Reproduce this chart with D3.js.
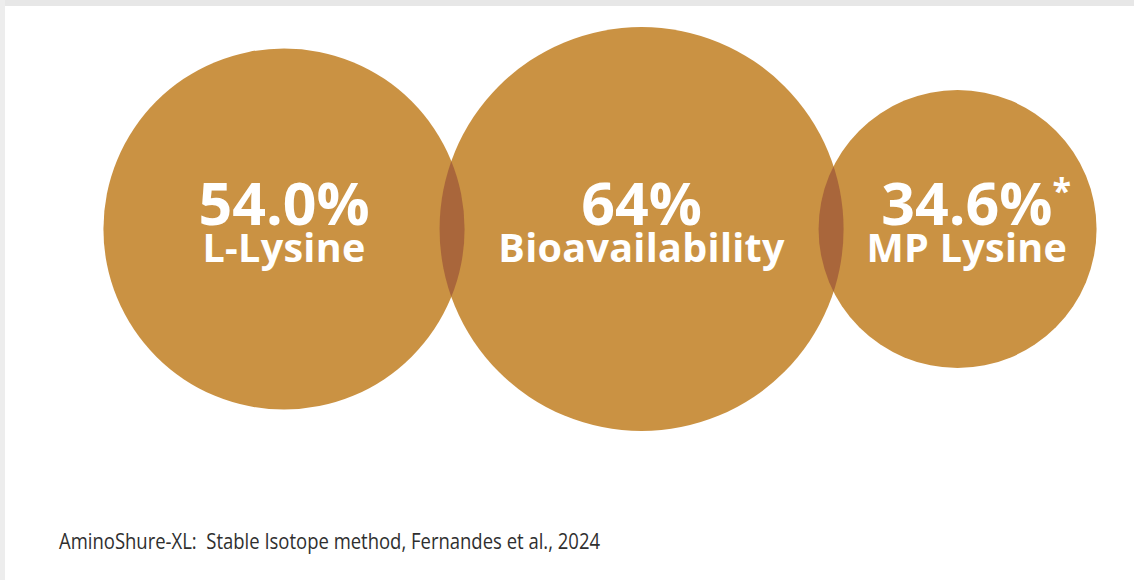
<!DOCTYPE html>
<html>
<head>
<meta charset="utf-8">
<script src="https://cdn.jsdelivr.net/npm/d3@7"></script>
<style>
  html, body { margin: 0; padding: 0; background: #ffffff; }
  svg { display: block; }
</style>
</head>
<body>
<div id="chart"></div>
<script>
// Lysine bioavailability comparison, one bubble per product
const values = [54.0, 64, 34.6];
const valueLabels = ["54.0%", "64%", "34.6%"];
const names = ["L-Lysine", "Bioavailability", "MP Lysine"];
const marks = ["", "", "*"];
const sourceNote = "AminoShure-XL:  Stable Isotope method, Fernandes et al., 2024";

const W = 1134, H = 580;
const fill = "#CA9243", lensFill = "#A9663B";

const svg = d3.select("#chart").append("svg")
  .attr("width", W).attr("height", H);

// page frame: grey band along the top and left edges
svg.append("rect").attr("x", 0).attr("y", 0).attr("width", W).attr("height", H).attr("fill", "#ffffff");
svg.append("rect").attr("x", 0).attr("y", 0).attr("width", W).attr("height", 6).attr("fill", "#e7e7e7");
svg.append("rect").attr("x", 0).attr("y", 0).attr("width", 5).attr("height", H).attr("fill", "#ededed");

// bubble radius from value
const r = d3.scaleLinear().domain([34.6, 64]).range([139, 202]);

// chain bubbles left to right with a small overlap, group centred
const overlap = 25;
const cy = 229;
const radii = values.map(v => r(v));
const totalW = 2 * d3.sum(radii) - overlap * (values.length - 1);
const groupCx = 600;
let x = groupCx - totalW / 2;
const nodes = values.map((v, i) => {
  const cx = x + radii[i];
  x += 2 * radii[i] - overlap;
  return { v, i, cx, cy, r: radii[i], label: valueLabels[i], name: names[i], mark: marks[i] };
});

const g = svg.append("g");

g.selectAll("circle.bubble")
  .data(nodes)
  .join("circle")
  .attr("class", "bubble")
  .attr("cx", d => d.cx).attr("cy", d => d.cy).attr("r", d => d.r)
  .attr("fill", fill);

// darker lens where neighbouring bubbles overlap
const defs = svg.append("defs");
nodes.slice(1).forEach((d, k) => {
  const prev = nodes[k];
  const id = "clip-" + k;
  defs.append("clipPath").attr("id", id)
    .append("circle").attr("cx", prev.cx).attr("cy", prev.cy).attr("r", prev.r);
  g.append("circle")
    .attr("cx", d.cx).attr("cy", d.cy).attr("r", d.r)
    .attr("fill", lensFill)
    .attr("clip-path", `url(#${id})`);
});

// labels: the number is centred on its own, a footnote mark hangs to its right
const labels = g.selectAll("g.label")
  .data(nodes)
  .join("g")
  .attr("class", "label");

const valueText = labels.append("text")
  .attr("text-anchor", "middle")
  .attr("y", -4)
  .attr("fill", "#ffffff")
  .style("font-family", "'Open Sans', sans-serif")
  .style("font-weight", 700)
  .style("font-size", "59px")
  .text(d => d.label);

labels.append("text")
  .attr("y", -26)
  .attr("fill", "#ffffff")
  .style("font-family", "'Open Sans', sans-serif")
  .style("font-weight", 700)
  .style("font-size", "34px")
  .attr("x", function(d) {
    const t = d3.select(this.parentNode).select("text").node();
    return t.getComputedTextLength() / 2;
  })
  .text(d => d.mark);

labels.append("text")
  .attr("text-anchor", "middle")
  .attr("y", 33)
  .attr("fill", "#ffffff")
  .style("font-family", "'Open Sans', sans-serif")
  .style("font-weight", 700)
  .style("font-size", "39.5px")
  .style("letter-spacing", "0.3px")
  .text(d => d.name);

// shift each label block right by half its footnote mark
labels.attr("transform", function(d) {
  const texts = d3.select(this).selectAll("text").nodes();
  const markW = d.mark ? texts[1].getComputedTextLength() : 0;
  return `translate(${d.cx + markW / 2},${d.cy})`;
});

// source note
svg.append("text")
  .attr("x", 59).attr("y", 549)
  .attr("fill", "#2f2f2f")
  .attr("textLength", 541)
  .attr("lengthAdjust", "spacingAndGlyphs")
  .style("white-space", "pre")
  .style("font-family", "'Open Sans', sans-serif")
  .style("font-size", "21px")
  .text(sourceNote);
</script>
</body>
</html>
